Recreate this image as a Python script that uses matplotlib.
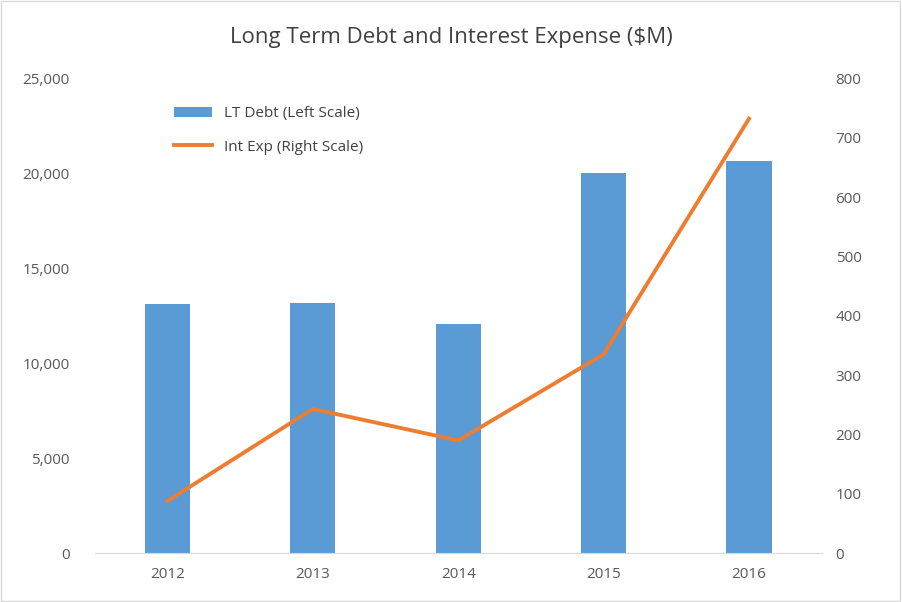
import matplotlib
matplotlib.use("Agg")
import matplotlib.pyplot as plt
from matplotlib.ticker import FuncFormatter

years = ["2012", "2013", "2014", "2015", "2016"]
lt_debt = [13100, 13150, 12050, 20000, 20630]
int_exp = [88, 243, 190, 335, 732]

plt.rcParams['font.family'] = ['Open Sans', 'DejaVu Sans']
fig = plt.figure(figsize=(9.02, 6.02), dpi=100)
ax = fig.add_axes([0.105, 0.081, 0.806, 0.789])
x = list(range(len(years)))
b = ax.bar(x, lt_debt, width=0.31, color='#5B9BD5', label='LT Debt (Left Scale)')
ax.set_xlim(-0.5, 4.5)
ax.set_ylim(0, 25000)
ax.set_yticks(range(0, 25001, 5000))
ax.yaxis.set_major_formatter(FuncFormatter(lambda v, p: f"{int(v):,}"))
ax.set_xticks(x)
ax.set_xticklabels(years)
ax2 = ax.twinx()
l, = ax2.plot(x, int_exp, color='#ED7D31', lw=2.8, label='Int Exp (Right Scale)')
ax2.set_ylim(0, 800)
ax2.set_yticks(range(0, 801, 100))
for a in (ax, ax2):
    for s in a.spines.values():
        s.set_visible(False)
    a.tick_params(length=0, labelsize=11, colors='#595959', pad=10)
ax.spines['bottom'].set_visible(True)
ax.spines['bottom'].set_color('#D9D9D9')
ax.tick_params(axis='y', pad=18)
fig.suptitle("Long Term Debt and Interest Expense ($M)", y=0.955, fontsize=16, color='#404040')
ax.legend([b, l], [b.get_label(), l.get_label()], loc='upper left', bbox_to_anchor=(0.09, 0.97),
          frameon=False, fontsize=11, labelcolor='#404040', handlelength=2.5, labelspacing=1.2)
fig.patches.append(plt.Rectangle((0.001, 0.001), 0.997, 0.997, transform=fig.transFigure,
                                 fill=False, edgecolor='#D9D9D9', lw=1))
fig.savefig("out.png", dpi=100)
